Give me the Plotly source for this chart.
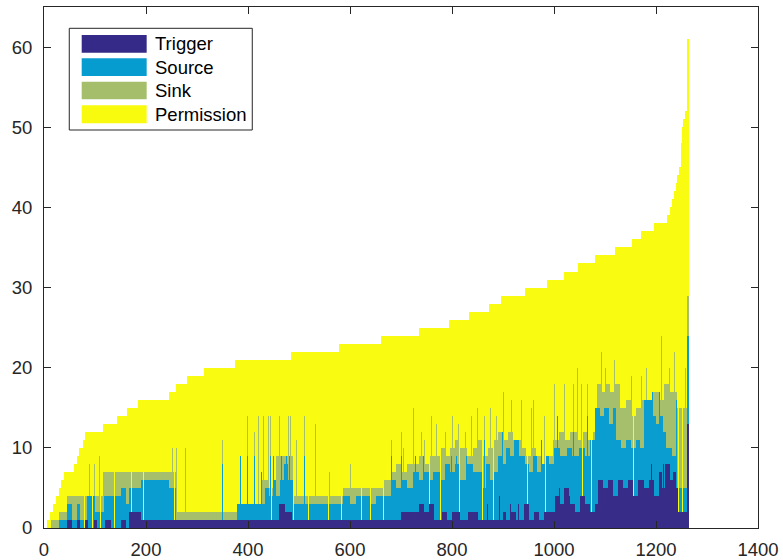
import numpy as np
import plotly.graph_objects as go

N_BARS = 1264

# Total height (= top of the Permission layer), as (last index, value) runs
TOTAL_STEPS = [(5, 0), (11, 1), (17, 2), (23, 3), (28, 4), (32, 5), (39, 6), (58, 7), (65, 8), (69, 9),
               (75, 10), (80, 11), (116, 12), (142, 13), (163, 14), (183, 15), (245, 16), (259, 17),
               (279, 18), (313, 19), (374, 20), (484, 21), (578, 22), (660, 23), (734, 24), (793, 25),
               (833, 26), (873, 27), (896, 28), (943, 29), (986, 30), (1019, 31), (1046, 32), (1080, 33),
               (1119, 34), (1153, 35), (1170, 36), (1195, 37), (1222, 38), (1227, 39), (1231, 40),
               (1235, 41), (1239, 42), (1241, 43), (1245, 44), (1248, 45), (1250, 48), (1252, 50),
               (1256, 51), (1260, 52), (1264, 61)]

# Trigger height, (last index, value) runs
TRIGGER_STEPS = [(45, 0), (54, 1), (64, 0), (71, 1), (79, 0), (85, 1), (97, 0), (103, 1), (120, 0),
                 (131, 1), (151, 0), (160, 1), (166, 0), (190, 2), (460, 1), (472, 3), (486, 2),
                 (700, 1), (712, 2), (735, 2), (745, 3), (755, 2), (765, 3), (780, 1), (790, 2), (800, 1),
                 (815, 2), (830, 1), (850, 2), (900, 1), (905, 2), (915, 1), (925, 2), (940, 1), (950, 3),
                 (960, 1), (970, 2), (980, 1), (1001, 2), (1010, 4), (1020, 3), (1030, 5), (1040, 3),
                 (1050, 2), (1060, 4), (1070, 3), (1079, 2), (1085, 3), (1095, 6), (1105, 5), (1115, 6),
                 (1125, 4), (1135, 6), (1145, 5), (1155, 6), (1165, 4), (1175, 6), (1185, 5), (1195, 6),
                 (1205, 4), (1212, 7), (1218, 5), (1225, 8), (1232, 6), (1238, 7), (1242, 5), (1261, 2),
                 (1264, 13)]

# Top of the Source layer (Trigger + Source), (last index, value) runs
SOURCE_TOP_STEPS = [(28, 0), (44, 1), (54, 3), (64, 1), (71, 3), (84, 1), (100, 4), (118, 2), (150, 4),
                    (160, 5), (166, 3), (190, 5), (245, 6), (258, 5), (377, 1), (425, 3), (432, 3),
                    (440, 5), (448, 4), (455, 6), (462, 4), (470, 6), (478, 8), (488, 6), (586, 3),
                    (600, 4), (612, 3), (625, 4), (640, 4), (650, 3), (664, 4), (680, 4), (690, 6),
                    (700, 5), (712, 6), (723, 5), (735, 7), (745, 6), (755, 7), (763, 6), (775, 7),
                    (785, 6), (795, 8), (805, 7), (815, 8), (828, 6), (840, 8), (850, 7), (858, 7),
                    (866, 5), (874, 8), (882, 6), (890, 7), (898, 9), (906, 8), (914, 10), (922, 9),
                    (930, 11), (942, 9), (950, 8), (958, 7), (966, 9), (975, 7), (981, 8), (990, 9),
                    (1000, 8), (1012, 10), (1024, 9), (1035, 10), (1048, 9), (1060, 10), (1070, 9),
                    (1079, 11), (1090, 15), (1098, 14), (1108, 15), (1115, 13), (1122, 15), (1130, 11),
                    (1140, 10), (1150, 11), (1160, 10), (1168, 11), (1175, 10), (1194, 16), (1200, 14),
                    (1208, 13), (1214, 14), (1220, 12), (1230, 10), (1240, 9), (1261, 5), (1264, 24)]

# Top of the Sink layer (Trigger + Source + Sink), (last index, value) runs
SINK_TOP_STEPS = [(14, 0), (28, 1), (44, 2), (116, 4), (258, 7), (377, 2), (425, 3), (440, 6), (455, 5),
                  (488, 9), (586, 4), (664, 5), (680, 6), (690, 7), (700, 8), (712, 7), (723, 8),
                  (735, 8), (745, 9), (755, 8), (763, 9), (775, 9), (785, 10), (795, 9), (805, 10),
                  (815, 11), (828, 10), (840, 9), (850, 10), (860, 11), (870, 9), (880, 10), (890, 11),
                  (900, 12), (910, 11), (920, 12), (935, 11), (945, 10), (955, 9), (965, 10), (975, 9),
                  (985, 8), (998, 9), (1010, 11), (1020, 12), (1030, 11), (1045, 12), (1055, 11),
                  (1065, 12), (1075, 11), (1083, 12), (1092, 18), (1100, 17), (1110, 18), (1120, 17),
                  (1129, 18), (1140, 15), (1150, 16), (1160, 14), (1170, 15), (1180, 16), (1194, 14),
                  (1205, 17), (1215, 16), (1225, 18), (1240, 17), (1261, 15), (1264, 29)]

# Thin single columns: (first index, last index, value)
TRIGGER_SPIKES = [(870, 871, 3), (893, 894, 4), (915, 916, 3), (930, 931, 3), (1010, 1011, 5),
                  (1030, 1031, 4), (1100, 1101, 5), (1160, 1161, 4), (1190, 1191, 8), (1215, 1216, 8),
                  (1225, 1226, 8)]
SOURCE_SPIKES = [(350, 351, 8), (384, 385, 9), (399, 400, 9), (412, 413, 9), (426, 427, 7), (443, 444, 9),
                 (449, 450, 9), (465, 466, 9), (475, 476, 9), (480, 481, 9), (511, 512, 9), (681, 682, 9),
                 (701, 702, 9), (727, 728, 9), (743, 744, 9), (799, 800, 9), (809, 810, 9), (828, 829, 9),
                 (863, 864, 11), (899, 900, 12), (975, 976, 11), (1007, 1008, 14), (1037, 1038, 12),
                 (1066, 1067, 14), (1193, 1194, 17), (1207, 1208, 17), (1239, 1240, 16)]
SINK_SPIKES = [(88, 89, 8), (99, 100, 8), (108, 109, 9), (252, 253, 10), (260, 261, 10), (276, 277, 10),
               (350, 351, 11), (384, 385, 9), (399, 400, 14), (412, 413, 12), (420, 421, 14), (430, 431, 14),
               (439, 440, 14), (443, 444, 14), (462, 463, 14), (478, 479, 14), (482, 483, 14), (495, 496, 11),
               (511, 512, 14), (531, 532, 13), (560, 561, 7), (600, 601, 8), (640, 641, 8), (681, 682, 11),
               (701, 702, 12), (705, 706, 10), (724, 725, 15), (740, 741, 12), (745, 746, 11), (760, 761, 14),
               (770, 771, 13), (786, 787, 12), (800, 801, 14), (812, 813, 13), (825, 826, 12), (838, 839, 14),
               (850, 851, 15), (863, 864, 14), (875, 876, 15), (886, 887, 14), (900, 901, 17), (916, 917, 16),
               (935, 936, 16), (955, 956, 15), (960, 961, 16), (980, 981, 14), (1001, 1002, 18),
               (1020, 1021, 18), (1037, 1038, 18), (1045, 1046, 20), (1053, 1054, 18), (1066, 1067, 18),
               (1092, 1093, 22), (1100, 1101, 20), (1118, 1119, 21), (1151, 1152, 19), (1171, 1172, 19),
               (1180, 1181, 20), (1210, 1211, 24), (1226, 1227, 20), (1235, 1236, 22), (1258, 1259, 20)]
# Columns where only Permission (over Trigger) shows
PERMISSION_ONLY = [(78, 79), (95, 96), (111, 112), (137, 138), (171, 172), (195, 196), (255, 256),
                   (446, 447), (488, 489), (518, 519), (557, 558), (583, 584), (622, 623), (639, 640),
                   (665, 666), (756, 757), (776, 777), (815, 816), (860, 861), (880, 881), (948, 949),
                   (982, 983), (1056, 1057), (1073, 1074), (1155, 1156), (1243, 1244), (1252, 1253)]

SERIES_NAMES = ["Trigger", "Source", "Sink", "Permission"]
X_TICKS = [0, 200, 400, 600, 800, 1000, 1200, 1400]
Y_TICKS = [0, 10, 20, 30, 40, 50, 60]


def expand(steps):
    out = np.zeros(N_BARS)
    start = 0
    for last, v in steps:
        out[start:last] = v
        start = last
    return out


idx = np.arange(1, N_BARS + 1)
total = expand(TOTAL_STEPS)
trig = expand(TRIGGER_STEPS)
src_top = expand(SOURCE_TOP_STEPS)
sink_top = expand(SINK_TOP_STEPS)

for a, b, v in TRIGGER_SPIKES:
    trig[a - 1:b] = v
for a, b, v in SOURCE_SPIKES:
    src_top[a - 1:b] = v
for a, b, v in SINK_SPIKES:
    sink_top[a - 1:b] = np.maximum(sink_top[a - 1:b], v)
src_top = np.maximum(src_top, trig)
sink_top = np.maximum(sink_top, src_top)
for a, b in PERMISSION_ONLY:
    src_top[a - 1:b] = trig[a - 1:b]
    sink_top[a - 1:b] = trig[a - 1:b]

sink_top = np.minimum(sink_top, total)
src_top = np.minimum(src_top, sink_top)
trig = np.minimum(trig, src_top)

layers = [trig, src_top - trig, sink_top - src_top, total - sink_top]
colors = ["rgba(53,42,135,0.99)", "rgba(7,156,207,0.99)", "rgba(165,190,107,0.99)", "rgba(249,251,14,0.99)"]
solid = ["rgb(53,42,135)", "rgb(7,156,207)", "rgb(165,190,107)", "rgb(249,251,14)"]

fig = go.Figure()
for name, vals, col in zip(SERIES_NAMES, layers, colors):
    fig.add_trace(go.Bar(x=idx, y=vals, name=name, marker=dict(color=col, line=dict(width=0)),
                         showlegend=False, hoverinfo="skip"))

FONT = "Liberation Sans, Arial, Helvetica, sans-serif"
axis_common = dict(showline=True, linecolor="#262626", linewidth=1, mirror="ticks", ticks="inside",
                   ticklen=7, tickcolor="#262626", tickwidth=1, showgrid=False, zeroline=False,
                   automargin=False, tickfont=dict(family=FONT, size=18.5, color="#262626"))

fig.update_layout(
    width=783, height=560, barmode="stack", bargap=0,
    paper_bgcolor="white", plot_bgcolor="white",
    margin=dict(l=44, r=25, t=7, b=32),
    xaxis=dict(range=[0, 1400], tickvals=X_TICKS, ticklabelstandoff=5, **axis_common),
    yaxis=dict(range=[0, 65], tickvals=Y_TICKS, ticklabelstandoff=7, **axis_common),
)

# Legend drawn in MATLAB style
shapes = [dict(type="rect", xref="paper", yref="paper", x0=0.0354, x1=0.2917, y0=0.7639, y1=0.9591,
               line=dict(color="#262626", width=1), fillcolor="white", layer="above")]
rows = [(0.9463, 0.9123), (0.9015, 0.8676), (0.8566, 0.8228), (0.8113, 0.7768)]
annotations = []
for (yt, yb), col, name in zip(rows, solid, SERIES_NAMES):
    shapes.append(dict(type="rect", xref="paper", yref="paper", x0=0.0528, x1=0.1438, y0=yb, y1=yt,
                       line=dict(width=0), fillcolor=col, layer="above"))
    annotations.append(dict(xref="paper", yref="paper", x=0.1522, y=(yt + yb) / 2, text=name,
                            showarrow=False, xanchor="left", yanchor="middle",
                            font=dict(family=FONT, size=18.5, color="black")))
fig.update_layout(shapes=shapes, annotations=annotations)

fig.write_html("out.html", config={"displayModeBar": False},
               post_script="document.body.style.margin='0px';document.body.style.overflow='hidden';")
